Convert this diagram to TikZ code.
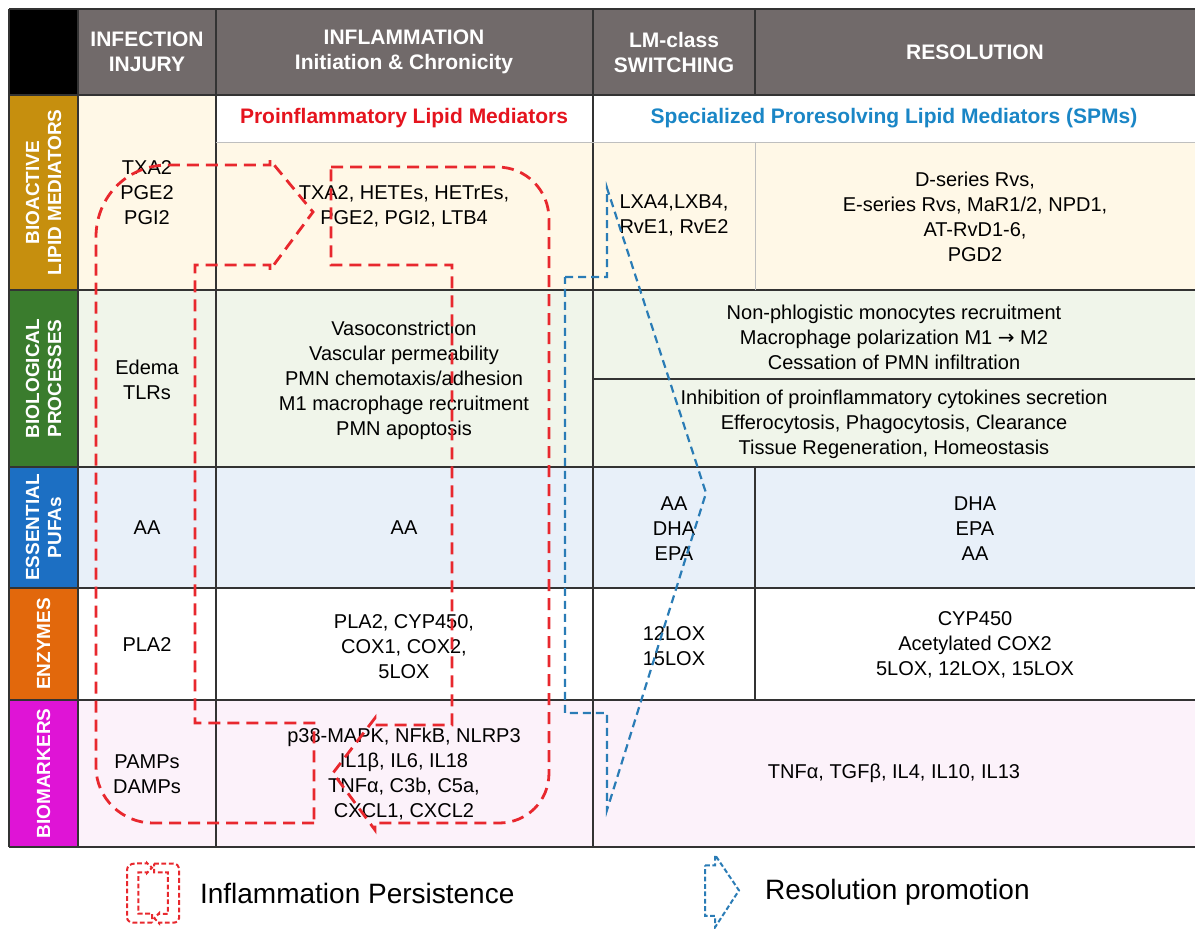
\documentclass[tikz,border=0pt]{standalone}
\usepackage{fontspec}
\setmainfont{Liberation Sans}
\newfontfamily\arrowfont{DejaVu Sans}
\definecolor{hdrgray}{HTML}{716A6A}
\definecolor{lmcream}{HTML}{FFF8E7}
\definecolor{bpgreen}{HTML}{F0F5EA}
\definecolor{pufablue}{HTML}{E8F0F9}
\definecolor{markpink}{HTML}{FCF2FA}
\definecolor{tabgold}{HTML}{C68F0E}
\definecolor{tabgreen}{HTML}{3A7C2D}
\definecolor{tabblue}{HTML}{1C6FC3}
\definecolor{taborange}{HTML}{E2680C}
\definecolor{tabmagenta}{HTML}{DF14D6}
\definecolor{prored}{HTML}{E5141E}
\definecolor{spmblue}{HTML}{1A86C6}
\definecolor{loopred}{HTML}{E8282E}
\definecolor{resblue}{HTML}{2A7CB6}

\begin{document}
\begin{tikzpicture}[x=.5pt,y=-.5pt,font=\fontsize{10}{12.5}\selectfont,
  cell/.style={align=center,inner sep=0pt},
  hd/.style={align=center,text=white,inner sep=0pt,font=\fontsize{10.5}{12.5}\selectfont\bfseries},
  side/.style={rotate=90,align=center,text=white,inner sep=0pt,font=\fontsize{9.5}{11}\selectfont\bfseries},
  rule/.style={line width=.8pt,black!80},
  faint/.style={line width=.5pt,black!25},
  persist/.style={loopred,line width=1.4pt},
  promote/.style={resblue,line width=1.1pt},
  loopdash/.style={dash pattern=on 6pt off 3.5pt},
  resdash/.style={dash pattern=on 4pt off 2.5pt},
  icondash/.style={dash pattern=on 2.4pt off 1.3pt,line width=1pt}]
 \useasboundingbox(0,0)rectangle(1195,928);
 \fill[white](0,0)rectangle(1195,928);
 % backgrounds
 \fill[black](9,9)rectangle(78,95);
 \fill[hdrgray](78,9)rectangle(1195,95);
 \fill[lmcream](78,95)rectangle(1195,290);
 \fill[white](216,95)rectangle(1195,142);
 \fill[bpgreen](78,290)rectangle(1195,467);
 \fill[pufablue](78,467)rectangle(1195,588);
 \fill[markpink](78,700)rectangle(1195,847);
 \foreach \ya/\yb/\col/\name/\lbl in {95/290/tabgold/sbio/{BIOACTIVE\\LIPID MEDIATORS},290/467/tabgreen/sproc/{BIOLOGICAL\\PROCESSES},467/588/tabblue/spufa/{ESSENTIAL\\PUFAs},588/700/taborange/senz/ENZYMES,700/847/tabmagenta/smark/BIOMARKERS}{
  \fill[\col](9,\ya)rectangle(78,\yb);
  \node[side](\name)at(43.5,{(\ya+\yb)/2}){\lbl};}
 % grid
 \foreach \y in {9,95,290,467,588,700,847}{\draw[rule](9,\y)--(1195,\y);}
 \foreach \x in {9,78,216,593}{\draw[rule](\x,9)--(\x,847);}
 \draw[rule](755,9)--(755,95) (755,467)--(755,700) (593,379)--(1195,379);
 \draw[faint](216,142)--(1195,142) (755,142)--(755,290);
 % headers
 \node[hd](hinf)at(147,52){INFECTION\\INJURY};
 \node[hd](hflam)at(404,52){INFLAMMATION\\Initiation \& Chronicity};
 \node[hd](hswitch)at(674,52){LM-class\\SWITCHING};
 \node[hd](hres)at(975,52){RESOLUTION};
 \node[hd,text=prored](pro)at(404,118){Proinflammatory Lipid Mediators};
 \node[hd,text=spmblue](spm)at(894,118){Specialized Proresolving Lipid Mediators (SPMs)};
 % cells
 \foreach \name/\x/\y/\txt in {c11/147/193/{TXA2\\PGE2\\PGI2},c12/404/206/{TXA2, HETEs, HETrEs,\\PGE2, PGI2, LTB4},c13/674/215/{LXA4,LXB4,\\RvE1, RvE2},c14/975/217/{D-series Rvs,\\E-series Rvs, MaR1/2, NPD1,\\AT-RvD1-6,\\PGD2},
  c21/147/380/{Edema\\TLRs},c22/404/380/{Vasoconstriction\\Vascular permeability\\PMN chemotaxis/adhesion\\M1 macrophage recruitment\\PMN apoptosis},c23/894/337/{Non-phlogistic monocytes recruitment\\Macrophage polarization M1 {\arrowfont →} M2\\Cessation of PMN infiltration},c24/894/424/{Inhibition of proinflammatory cytokines secretion\\Efferocytosis, Phagocytosis, Clearance\\Tissue Regeneration, Homeostasis},
  c31/147/528/AA,c32/404/528/AA,c33/674/529/{AA\\DHA\\EPA},c34/975/529/{DHA\\EPA\\AA},
  c41/147/645/PLA2,c42/404/647/{PLA2, CYP450,\\COX1, COX2,\\5LOX},c43/674/646/{12LOX\\15LOX},c44/975/645/{CYP450\\Acetylated COX2\\5LOX, 12LOX, 15LOX},
  c51/147/774/{PAMPs\\DAMPs},c52/404/774/{p38-MAPK, NFkB, NLRP3\\IL1β, IL6, IL18\\TNFα, C3b, C5a,\\CXCL1, CXCL2},c53/894/773/{TNFα, TGFβ, IL4, IL10, IL13}}{
  \node[cell](\name)at(\x,\y){\txt};}
 % persistence loop, in the table and as legend icon
 \foreach \ox/\oy/\sx/\sy/\dsh in {96/160/1/1/loopdash,127/863/.115/.09/icondash}{
  \begin{scope}[shift={(\ox,\oy)},xscale=\sx,yscale=\sy,shift={(-96,-160)}]
   \draw[persist,\dsh](314,823)--(153,823)..controls(122,823)and(96,798)..(96,767)--(96,237)..controls(96,197)and(127,165)..(168,165)--(270,165)--(270,160)--(313,212)--(270,270)--(270,265)--(195,265)--(195,723)--(314,723)--cycle;
   \draw[persist,\dsh](331,167)--(497,167)..controls(526,167)and(549,190)..(549,219)--(549,773)..controls(549,801)and(527,823)..(499,823)--(375,823)--(375,830)--(333,773)--(375,718)--(375,725)--(452,725)--(452,265)--(331,265)--cycle;
  \end{scope}}
 % resolution arrow, in the table and as legend icon
 \foreach \ox/\oy/\sx/\sy/\dsh in {565/188/1/1/resdash,705/855/.241/.116/icondash}{
  \begin{scope}[shift={(\ox,\oy)},xscale=\sx,yscale=\sy,shift={(-565,-188)}]
   \draw[promote,\dsh](565,277)--(607,277)--(607,188)--(706,493)--(607,810)--(607,713)--(565,713)--cycle;
  \end{scope}}
 % legend
 \node[anchor=west,font=\fontsize{14}{16}\selectfont](lgpersist)at(193,893){Inflammation Persistence};
 \node[anchor=west,font=\fontsize{14}{16}\selectfont](lgres)at(758,892){Resolution promotion};
\end{tikzpicture}
\end{document}
